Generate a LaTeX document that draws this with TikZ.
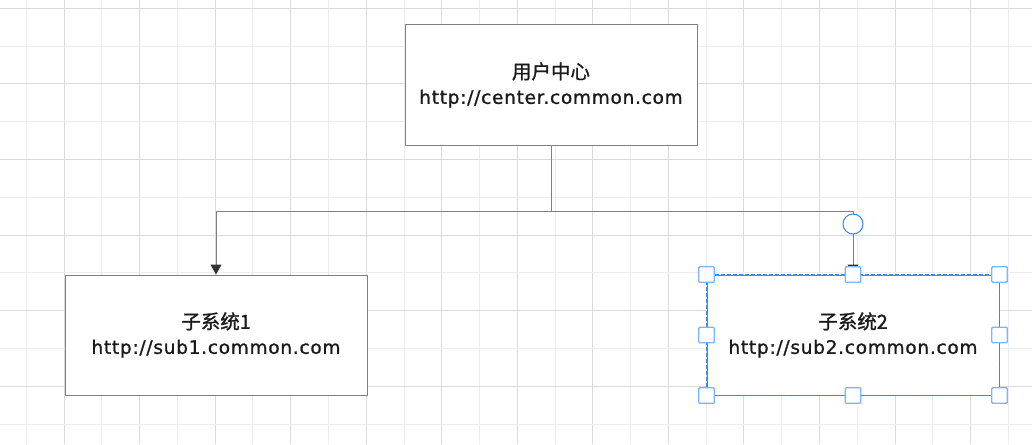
\documentclass[tikz,border=0pt]{standalone}
\usepackage{fontspec}
\setmainfont{DejaVu Sans}[LetterSpace=4,FakeBold=1.1]
\newfontfamily\cjk{Noto Sans CJK SC}[FakeBold=1.2]
\usetikzlibrary{arrows.meta,positioning}
\definecolor{gridmajor}{HTML}{DADADA}
\definecolor{gridminor}{HTML}{EDEDED}
\definecolor{boxgray}{HTML}{808080}
\definecolor{tipdark}{HTML}{333333}
\definecolor{textdark}{HTML}{1A1A1A}
\definecolor{handleblue}{HTML}{7AB6FF}
\definecolor{dashblue}{HTML}{3388EE}

\tikzset{
  sysbox/.style={draw=boxgray,fill=white,line width=1pt,minimum width=292pt,minimum height=120pt,
    inner sep=0pt,align=center,text=textdark,font=\fontsize{18.5}{25}\selectfont},
  link/.style={draw=boxgray,line width=1pt,-{Triangle[length=10pt,width=11pt,color=tipdark]}},
  grip/.style={draw=handleblue,fill=white,line width=1.4pt,minimum size=15.5pt,inner sep=0pt,rounded corners=1pt}
}

\begin{document}
\begin{tikzpicture}[x=1pt,y=-1pt]
    \path[fill=white,use as bounding box] (0,0) rectangle (1032,444);
    % grid
    \foreach \k in {0,...,26}{
      \pgfmathsetmacro\xx{26.3+\k*37.77}
      \ifodd\k \def\gc{gridmajor}\else \def\gc{gridminor}\fi
      \draw[\gc,line width=1pt] (\xx,0)--(\xx,444);
    }
    \foreach \k in {0,...,11}{
      \pgfmathsetmacro\yy{8.3+\k*37.8}
      \ifodd\k \def\gc{gridminor}\else \def\gc{gridmajor}\fi
      \draw[\gc,line width=1pt] (0,\yy)--(1032,\yy);
    }
    \node[sysbox] (center) at (551,85) {{\cjk\fontsize{19.5}{25}\selectfont 用户中心}\\http://center.common.com};
    \node[sysbox,minimum width=302pt] (sub1) at (216,335) {{\cjk\fontsize{19.5}{25}\selectfont 子系统1}\\http://sub1.common.com};
    \node[sysbox] (sub2) at (853,335) {{\cjk\fontsize{19.5}{25}\selectfont 子系统2}\\http://sub2.common.com};
    \coordinate (split) at (551,211);
    \draw[link] (center.south)--(split)-|(sub1.north);
    \draw[link] (split)-|(sub2.north);
    % selection of sub2
    \draw[dashblue,line width=0.9pt,dash pattern=on 4pt off 2pt] (sub2.north west) rectangle (sub2.south east);
    \node[circle,draw=dashblue,fill=white,line width=1pt,minimum size=20pt,inner sep=0pt] (bend) at (853,224) {};
    \foreach \a/\n in {north west/nw,north/n,north east/ne,west/w,east/e,south west/sw,south/s,south east/se}{
      \node[grip] (grip-\n) at (sub2.\a) {};
    }
\end{tikzpicture}
\end{document}
